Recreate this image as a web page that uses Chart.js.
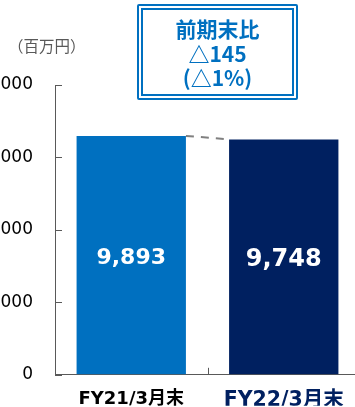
<!DOCTYPE html>
<html>
<head>
<meta charset="utf-8">
<script src="https://cdn.jsdelivr.net/npm/chart.js@4.4.1/dist/chart.umd.min.js"></script>
<style>
  html, body { margin: 0; padding: 0; background: #fff; overflow: hidden; }
  #wrap { position: relative; width: 355px; height: 407px; overflow: hidden; }
  #balanceChart { position: absolute; left: 0; top: 0; }
  #unit {
    position: absolute; left: 8px; top: 34px; line-height: 22px;
    font: 15.5px "Noto Sans CJK JP", sans-serif; color: #595959;
  }
  #changeBox {
    position: absolute; left: 137px; top: 4px; width: 149px; height: 78px;
    border: 6px double #0070C0; border-radius: 2px;
    color: #0070C0; font: bold 21px "Noto Sans CJK JP", sans-serif;
    text-align: center; line-height: 24.5px; padding-top: 6px;
  }
</style>
</head>
<body>
<div id="wrap">
  <canvas id="balanceChart" width="360" height="407"></canvas>
  <div id="unit">（百万円）</div>
  <div id="changeBox"></div>
</div>
<script>
const categories = ["FY21/3月末", "FY22/3月末"];
const balances = [9893, 9748];
const barColors = ["#0070C0", "#002060"];
const labelColors = ["#000000", "#002060"];
const labelSizes = [18, 20.5];
const valueSizes = [22, 24];
const yTicks = [0, 3000, 6000, 9000, 12000];
const changeLines = ["前期末比", "△145", "(△1%)"];

document.getElementById("changeBox").innerHTML = changeLines.join("<br>");

const axisColor = "#595959";
const latinFont = '"DejaVu Sans", "Noto Sans CJK JP", sans-serif';

// short tick marks pointing into the plot area
const innerTicks = {
  id: "innerTicks",
  afterDraw(chart) {
    const { ctx, scales: { x, y } } = chart;
    ctx.save();
    ctx.strokeStyle = axisColor;
    ctx.lineWidth = 1;
    ctx.beginPath();
    yTicks.forEach(v => {
      const py = Math.round(y.getPixelForValue(v)) + 0.5;
      ctx.moveTo(x.left, py);
      ctx.lineTo(x.left + 7, py);
    });
    for (let i = 0; i < categories.length - 1; i++) {
      const px = Math.round((x.getPixelForValue(i) + x.getPixelForValue(i + 1)) / 2) + 0.5;
      ctx.moveTo(px, y.bottom);
      ctx.lineTo(px, y.bottom - 7);
    }
    ctx.stroke();
    ctx.restore();
  }
};

// value labels inside bars and dashed connector between bar tops
const barExtras = {
  id: "barExtras",
  afterDatasetsDraw(chart) {
    const { ctx } = chart;
    const bars = chart.getDatasetMeta(0).data;
    ctx.save();
    ctx.strokeStyle = "#808080";
    ctx.lineWidth = 2;
    ctx.setLineDash([8, 7]);
    for (let i = 0; i < bars.length - 1; i++) {
      const a = bars[i], b = bars[i + 1];
      ctx.beginPath();
      ctx.moveTo(a.x + a.width / 2, a.y);
      ctx.lineTo(b.x - b.width / 2, b.y);
      ctx.stroke();
    }
    ctx.setLineDash([]);
    ctx.fillStyle = "#ffffff";
    ctx.textAlign = "center";
    ctx.textBaseline = "middle";
    bars.forEach((bar, i) => {
      ctx.font = `bold ${valueSizes[i]}px ${latinFont}`;
      ctx.fillText(balances[i].toLocaleString("en-US"), bar.x, (bar.y + bar.base) / 2 + 3);
    });
    ctx.restore();
  }
};

new Chart(document.getElementById("balanceChart"), {
  type: "bar",
  data: {
    labels: categories,
    datasets: [{
      data: balances,
      backgroundColor: barColors,
      barPercentage: 1,
      categoryPercentage: 0.717
    }]
  },
  options: {
    responsive: false,
    animation: false,
    devicePixelRatio: 1,
    layout: { padding: { top: 85, left: 0, right: 0, bottom: 0 } },
    plugins: { legend: { display: false }, tooltip: { enabled: false } },
    scales: {
      x: {
        grid: { drawOnChartArea: false, drawTicks: false, tickLength: 0 },
        border: { display: true, color: axisColor, width: 1 },
        ticks: {
          padding: 14,
          color: ctx => labelColors[ctx.index],
          font: ctx => ({ family: latinFont, size: labelSizes[ctx.index], weight: "bold" })
        },
        afterFit: scale => { scale.height = 31; }
      },
      y: {
        min: 0,
        max: 12000,
        afterBuildTicks: scale => { scale.ticks = yTicks.map(v => ({ value: v })); },
        grid: { drawOnChartArea: false, drawTicks: false, tickLength: 0 },
        border: { display: true, color: axisColor, width: 1 },
        ticks: {
          padding: 22,
          color: "#000000",
          font: { family: latinFont, size: 17 },
          callback: v => v.toLocaleString("en-US")
        },
        afterFit: scale => { scale.width = 55; }
      }
    }
  },
  plugins: [innerTicks, barExtras]
});
</script>
</body>
</html>
